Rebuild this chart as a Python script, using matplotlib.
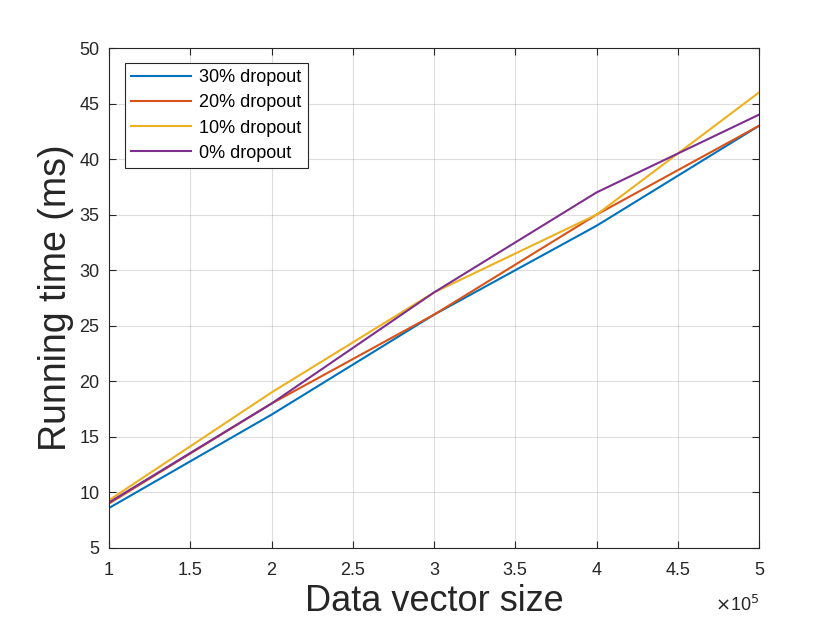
import matplotlib.pyplot as plt
import numpy as np

plt.rcParams['font.family'] = ['Liberation Sans', 'DejaVu Sans']

sizes = [1, 2, 3, 4, 5]  # x 10^5
drop30 = [8.6, 17, 26, 34, 43]
drop20 = [9.0, 18, 26, 35, 43]
drop10 = [9.3, 19, 28, 35, 46]
drop0 = [9.1, 18, 28, 37, 44]
labels = ['30% dropout', '20% dropout', '10% dropout', '0% dropout']
colors = ['#0072BD', '#D95319', '#EDB120', '#7E2F8E']

fig = plt.figure(figsize=(8.4, 6.3), dpi=100)
ax = fig.add_axes([0.1298, 0.1302, 0.7738, 0.7936])

for ys, lab, c in zip([drop30, drop20, drop10, drop0], labels, colors):
    ax.plot(sizes, ys, color=c, linewidth=1.5, label=lab)

ax.set_xlim(1, 5)
ax.set_ylim(5, 50)
ax.set_xticks(np.arange(1, 5.01, 0.5))
ax.set_xticklabels(['1', '1.5', '2', '2.5', '3', '3.5', '4', '4.5', '5'])
ax.set_yticks(np.arange(5, 51, 5))
ax.tick_params(direction='in', length=5, labelsize=13, colors='#262626', top=True, right=True)
ax.tick_params(axis='x', pad=10)
ax.tick_params(axis='y', pad=7)
ax.grid(True, color='#262626', alpha=0.15, linewidth=0.8)
for s in ax.spines.values():
    s.set_color('#262626')
    s.set_linewidth(0.8)

ax.set_xlabel('Data vector size', fontsize=26, color='#262626', labelpad=4)
ax.set_ylabel('Running time (ms)', fontsize=27, color='#262626', labelpad=4)
ax.text(1.0, -0.094, r'$\times$10$^5$', transform=ax.transAxes, ha='right', va='top',
        fontsize=13, color='#262626')

leg = ax.legend(loc='upper left', bbox_to_anchor=(0.0246, 0.97), borderaxespad=0,
                fontsize=13, frameon=True, fancybox=False, edgecolor='#262626',
                framealpha=1, borderpad=0.35, labelspacing=0.45, handlelength=3.3,
                handletextpad=0.45)
leg.get_frame().set_linewidth(0.8)

fig.savefig('out.png', dpi=100)
